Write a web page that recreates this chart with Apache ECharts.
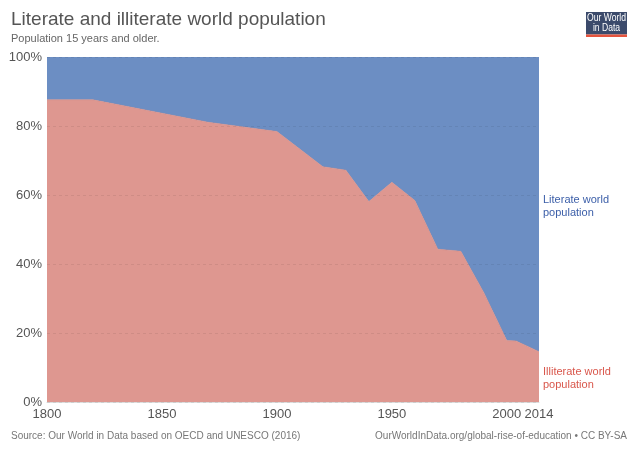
<!DOCTYPE html>
<html>
<head>
    <meta charset="utf-8">
    <title>Literate and illiterate world population</title>
    <script src="https://cdn.jsdelivr.net/npm/echarts@6/dist/echarts.min.js"></script>
    <style>
        html, body { margin: 0; padding: 0; background: #ffffff; }
        #main { width: 640px; height: 452px; }
    </style>
</head>
<body>
<div id="main"></div>
<script>
    // years and shares (%)
    var years = [1800, 1820, 1870, 1900, 1920, 1930, 1940, 1950, 1960, 1970, 1980, 1990, 2000, 2004, 2014];
    var illiterate = [87.6, 87.6, 81.1, 78.4, 68.2, 67.2, 58.1, 63.7, 58.4, 44.3, 43.7, 31.7, 17.8, 17.7, 14.6];
    var literate = [12.4, 12.4, 18.9, 21.6, 31.8, 32.8, 41.9, 36.3, 41.6, 55.7, 56.3, 68.3, 82.2, 82.3, 85.4];
    var xTicks = [1800, 1850, 1900, 1950, 2000, 2014];
    var yTicks = [0, 20, 40, 60, 80, 100];

    var chart = echarts.init(document.getElementById('main'), null, {renderer: 'canvas'});

    // share first, year second: echarts stacks the first value dimension
    function pairs(vals) {
        return years.map(function (y, i) { return [vals[i], y]; });
    }

    var font = 'Liberation Sans, Arial, sans-serif';

    var option = {
        animation: false,
        textStyle: {fontFamily: font},
        title: [
            {
                text: 'Literate and illiterate world population',
                left: 11, top: 10, padding: 0,
                textStyle: {fontSize: 19, fontWeight: 'normal', color: '#555555', fontFamily: font}
            },
            {
                text: 'Population 15 years and older.',
                left: 11, top: 33, padding: 0,
                textStyle: {fontSize: 11, fontWeight: 'normal', color: '#666666', fontFamily: font}
            },
            {
                text: 'Source: Our World in Data based on OECD and UNESCO (2016)',
                left: 11, top: 431, padding: 0,
                textStyle: {fontSize: 10, fontWeight: 'normal', color: '#777777', fontFamily: font}
            },
            {
                text: 'OurWorldInData.org/global-rise-of-education \u2022 CC BY-SA',
                right: 13, top: 431, padding: 0,
                textStyle: {fontSize: 10, fontWeight: 'normal', color: '#777777', fontFamily: font}
            }
        ],
        grid: {left: 47, right: 101, top: 57, bottom: 50},
        xAxis: {
            type: 'value',
            min: 1800, max: 2014,
            axisLine: {show: true, lineStyle: {color: '#dddddd'}},
            axisTick: {show: false},
            splitLine: {show: false},
            axisLabel: {
                customValues: xTicks,
                color: '#555555', fontSize: 13, margin: 6,
                formatter: function (v) { return String(v); }
            }
        },
        yAxis: {
            type: 'value',
            z: 10,
            min: 0, max: 100, interval: 20,
            axisLine: {show: false},
            axisTick: {show: false},
            splitLine: {show: true, lineStyle: {color: 'rgba(0,0,0,0.07)', type: [3, 3]}},
            axisLabel: {
                color: '#555555', fontSize: 13, margin: 5,
                formatter: function (v) { return yTicks.indexOf(v) >= 0 ? v + '%' : ''; }
            }
        },
        series: [
            {
                name: 'Illiterate world population',
                type: 'line',
                stack: 'share',
                encode: {x: 1, y: 0},
                symbol: 'none',
                z: 3,
                lineStyle: {width: 0.6, color: '#cf8a84'},
                areaStyle: {color: '#de9790', opacity: 1},
                data: pairs(illiterate)
            },
            {
                name: 'Literate world population',
                type: 'line',
                stack: 'share',
                encode: {x: 1, y: 0},
                symbol: 'none',
                z: 2,
                lineStyle: {width: 0},
                areaStyle: {color: '#6c8ec3', opacity: 1},
                data: pairs(literate)
            }
        ]
    };
    chart.setOption(option);

    // right-hand labels, centred in each area at the last year
    var last = years.length - 1;
    var xEnd = chart.convertToPixel({gridIndex: 0}, [years[last], 0])[0];
    var yIll = chart.convertToPixel({gridIndex: 0}, [years[last], illiterate[last] / 2])[1];
    var yLit = chart.convertToPixel({gridIndex: 0}, [years[last], illiterate[last] + literate[last] / 2])[1];

    chart.setOption({
        graphic: [
            {
                type: 'text', left: xEnd + 4, top: yLit - 11,
                style: {text: 'Literate world\npopulation', fill: '#3b5ea8', font: '11px ' + font, lineHeight: 13}
            },
            {
                type: 'text', left: xEnd + 4, top: yIll - 11,
                style: {text: 'Illiterate world\npopulation', fill: '#d9564b', font: '11px ' + font, lineHeight: 13}
            },
            {
                type: 'group', right: 13, top: 12,
                children: [
                    {type: 'rect', shape: {x: 0, y: 0, width: 41, height: 22.5}, style: {fill: '#3b4a6b'}},
                    {type: 'rect', shape: {x: 0, y: 22.5, width: 41, height: 2.5}, style: {fill: '#e5543e'}},
                    {
                        type: 'text', x: 20.5, y: 1, scaleX: 0.78,
                        style: {
                            text: 'Our World\nin Data', fill: '#ffffff', align: 'center',
                            font: '11px ' + font, lineHeight: 10
                        }
                    }
                ]
            }
        ]
    });

    window.onresize = function () {
        chart.resize();
    };
</script>
</body>
</html>
